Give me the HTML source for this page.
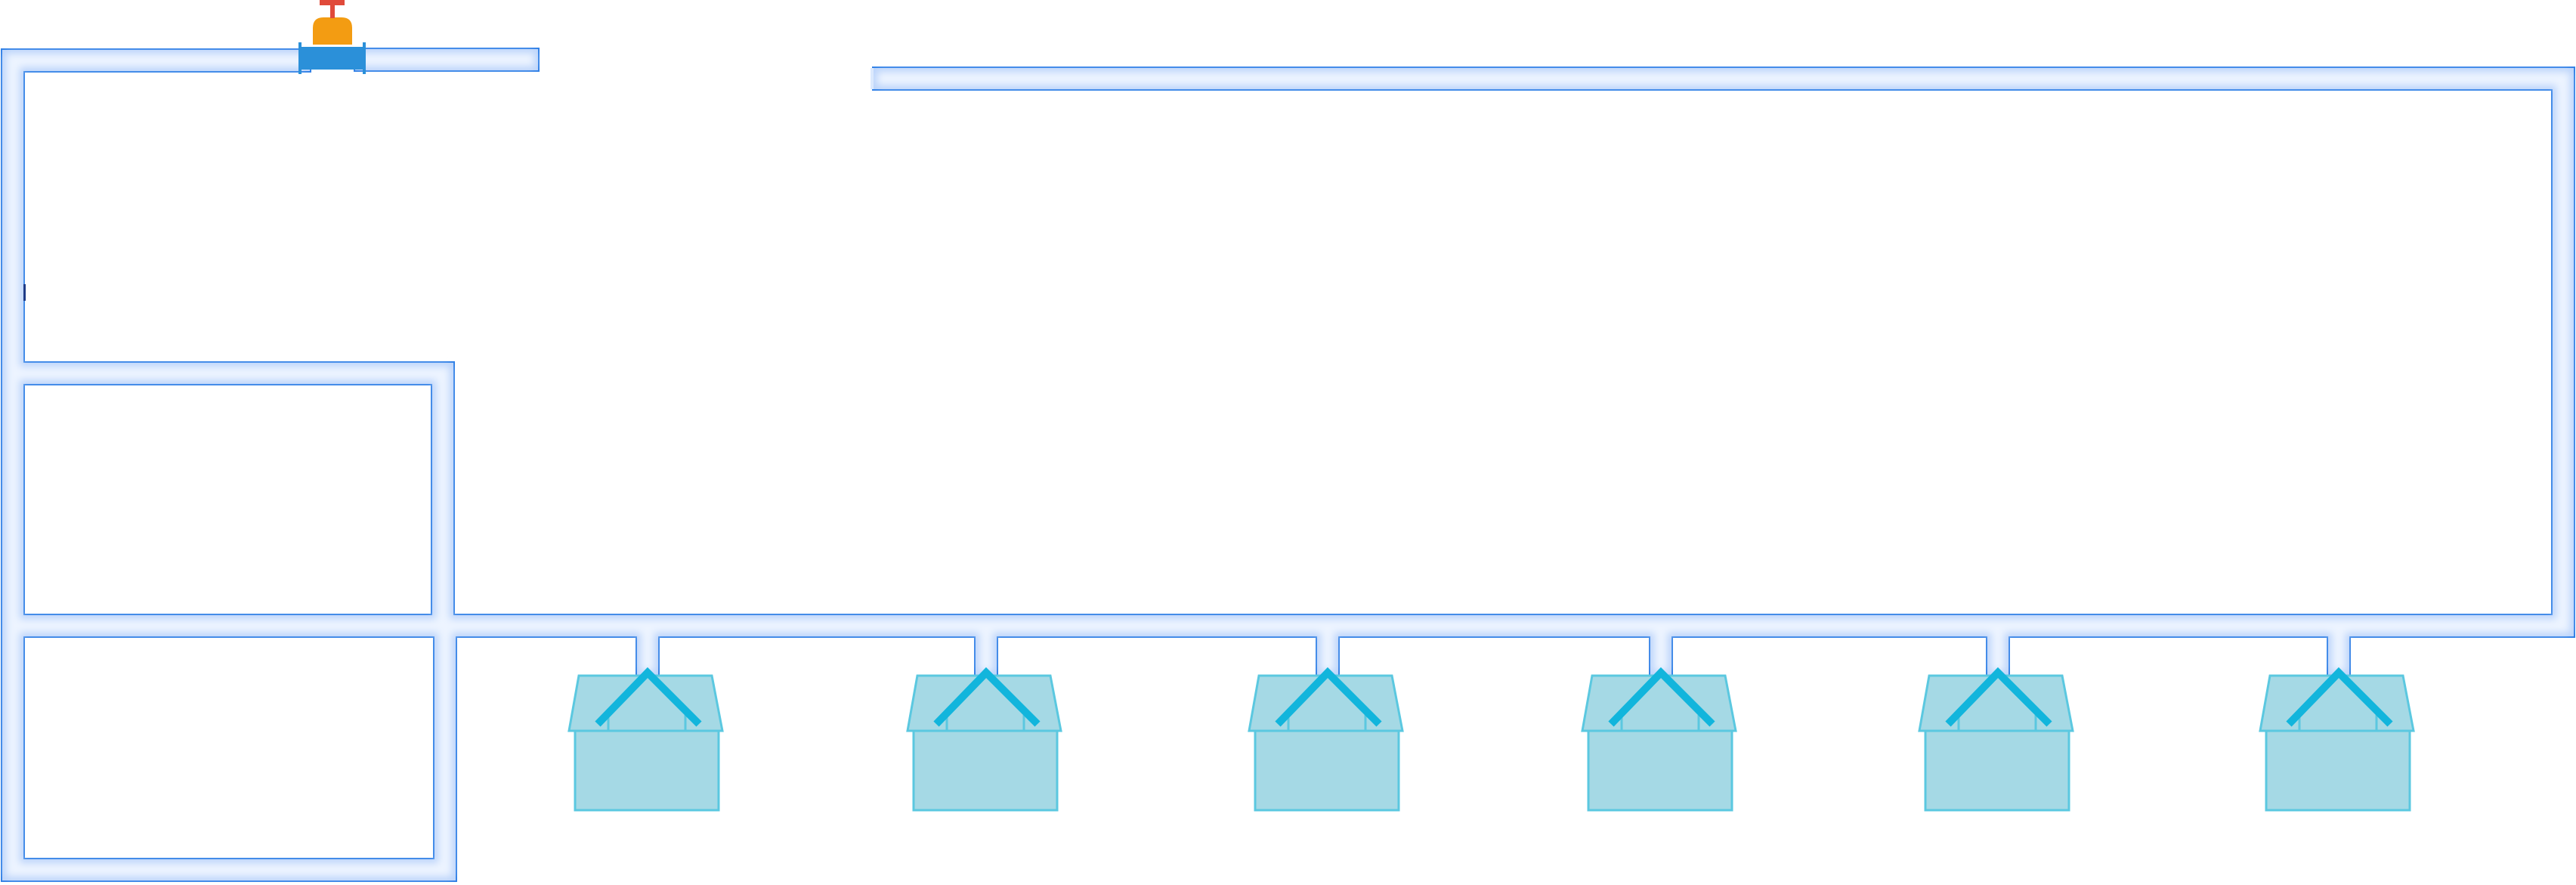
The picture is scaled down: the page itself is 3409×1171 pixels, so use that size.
<!DOCTYPE html>
<html><head><meta charset="utf-8"><style>html,body{margin:0;padding:0;background:#fff}svg{display:block}</style></head>
<body>
<svg width="3409" height="1171" viewBox="0 0 3409 1171" xmlns="http://www.w3.org/2000/svg">
<defs>
<filter id="bl" x="-10%" y="-10%" width="120%" height="120%"><feGaussianBlur stdDeviation="5"/></filter>
<g id="pipes" fill="none" stroke-linejoin="miter" stroke-linecap="square">
<polyline points="396,80 17,80 17,1151 589,1151 589,843"/>
<polyline points="17,494 586,494 586,828"/>
<polyline points="17,828 3392,828 3392,104 1170,104"/>
<line x1="484" y1="79" x2="698" y2="79"/>
<line x1="857" y1="828" x2="857" y2="879"/>
<line x1="1305" y1="828" x2="1305" y2="879"/>
<line x1="1757" y1="828" x2="1757" y2="879"/>
<line x1="2198" y1="828" x2="2198" y2="879"/>
<line x1="2644" y1="828" x2="2644" y2="879"/>
<line x1="3095" y1="828" x2="3095" y2="879"/>
</g>
<g id="h">
<rect x="-96" y="967" width="190" height="105" fill="#a5d9e5" stroke="#5bc8e0" stroke-width="3"/>
<polygon points="-91,894 85,894 99,967 -104,967" fill="#a5d9e5" stroke="#5bc8e0" stroke-width="3"/>
<path d="M-52,946 V967 H-96 M50,946 V967 H94" fill="none" stroke="#5bc8e0" stroke-width="3"/>
<polyline points="-66,958 0,890 68,958" fill="none" stroke="#12b5dc" stroke-width="10"/>
</g>
</defs>
<use href="#pipes" stroke="#2f7fe6" stroke-width="32"/>
<use href="#pipes" stroke="#bcd4fa" stroke-width="28"/>
<use href="#pipes" stroke="#edf4ff" stroke-width="18" filter="url(#bl)"/>
<rect x="1152" y="90" width="4" height="28" fill="#dce9fd"/>
<rect x="31" y="376" width="3" height="22" fill="#1f3c88"/>
<rect x="395" y="56" width="4" height="42" fill="#2b90d9"/>
<rect x="480" y="56" width="4" height="42" fill="#2b90d9"/>
<rect x="398" y="62" width="83" height="30" fill="#2b90d9"/>
<path d="M414,59 V37 Q414,23 428,23 H452 Q466,23 466,37 V59 Z" fill="#f39c12"/>
<rect x="437" y="6" width="6" height="18" fill="#e04a3a"/>
<rect x="423" y="0" width="33" height="7" fill="#e04a3a"/>
<use href="#h" transform="translate(857,0)"/>
<use href="#h" transform="translate(1305,0)"/>
<use href="#h" transform="translate(1757,0)"/>
<use href="#h" transform="translate(2198,0)"/>
<use href="#h" transform="translate(2644,0)"/>
<use href="#h" transform="translate(3095,0)"/>
</svg>
</body></html>
